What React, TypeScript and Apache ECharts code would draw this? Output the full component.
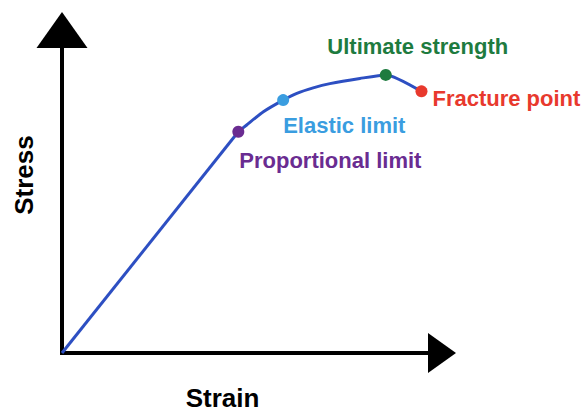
import React, { useEffect, useRef } from "react";
import * as echarts from "echarts";

// Linear (elastic) part of the curve
const linearStrain = [0, 46.4];
const linearStress = [0, 68.5];

// Curved (plastic) part of the curve
const curveStrain = [46.4, 48.6, 53.0, 58.2, 61.8, 66.1, 70.5, 78.4, 85.2, 94.6];
const curveStress = [68.5, 70.6, 74.7, 78.3, 80.4, 82.1, 83.4, 85.0, 86.1, 81.0];

// Key points
const pointNames = ["Proportional limit", "Elastic limit", "Ultimate strength", "Fracture point"];
const pointStrain = [46.4, 58.2, 85.2, 94.6];
const pointStress = [68.5, 78.3, 86.1, 81.0];

const xTitle = "Strain";
const yTitle = "Stress";

const markerColors = ["#6a2c91", "#3a9de0", "#1e7b3f", "#e8392d"];
const FONT = "'Liberation Sans', Arial, Helvetica, sans-serif";

const labelLayouts: any[] = [
  { position: "bottom", align: "left", offset: [1, 7] },
  { position: "bottom", align: "left", offset: [0, 3.5] },
  { position: "top", align: "center", offset: [32, -6] },
  { position: "right", align: "left", offset: [0, 7] },
];

export default function App() {
  const ref = useRef<HTMLDivElement>(null);
  useEffect(() => {
    if (!ref.current) return;
    const chart = echarts.init(ref.current, null, { renderer: "svg" });
    const axisCommon = {
      type: "value" as const,
      min: 0,
      max: 100,
      splitLine: { show: false },
      axisTick: { show: false },
      axisLabel: { show: false },
    };
    chart.setOption({
      animation: false,
      backgroundColor: "#ffffff",
      grid: { left: 62, top: 30, width: 380, height: 323, containLabel: false },
      xAxis: {
        ...axisCommon,
        axisLine: {
          show: true,
          symbol: ["none", "triangle"],
          symbolSize: [40, 28],
          lineStyle: { color: "#000000", width: 4, cap: "square" },
        },
      },
      yAxis: {
        ...axisCommon,
        axisLine: {
          show: true,
          symbol: ["none", "triangle"],
          symbolSize: [51, 36],
          lineStyle: { color: "#000000", width: 4, cap: "square" },
        },
      },
      graphic: [
        {
          type: "text",
          x: 222.5,
          y: 398,
          style: {
            text: xTitle,
            font: `bold 26px ${FONT}`,
            fill: "#000000",
            textAlign: "center",
            textVerticalAlign: "middle",
          },
        },
        {
          type: "text",
          x: 24,
          y: 175,
          rotation: Math.PI / 2,
          style: {
            text: yTitle,
            font: `bold 26px ${FONT}`,
            fill: "#000000",
            textAlign: "center",
            textVerticalAlign: "middle",
          },
        },
      ],
      series: [
        {
          type: "line",
          data: linearStrain.map((x, i) => [x, linearStress[i]]),
          showSymbol: false,
          lineStyle: { color: "#2d4fc2", width: 3 },
          z: 2,
        },
        {
          type: "line",
          data: curveStrain.map((x, i) => [x, curveStress[i]]),
          showSymbol: false,
          smooth: 0.2,
          lineStyle: { color: "#2d4fc2", width: 3 },
          z: 2,
        },
        {
          type: "scatter",
          symbolSize: 12,
          z: 3,
          itemStyle: { opacity: 1 },
          data: pointNames.map((name, i) => ({
            name,
            value: [pointStrain[i], pointStress[i]],
            itemStyle: { color: markerColors[i], opacity: 1 },
            label: {
              show: true,
              formatter: "{b}",
              color: markerColors[i],
              opacity: 1,
              fontSize: 22,
              fontWeight: "bold",
              fontFamily: FONT,
              ...labelLayouts[i],
            },
          })),
        },
      ],
    });
    return () => chart.dispose();
  }, []);
  return <div ref={ref} style={{ width: 582, height: 414, position: "absolute", left: 0, top: 0 }} />;
}
